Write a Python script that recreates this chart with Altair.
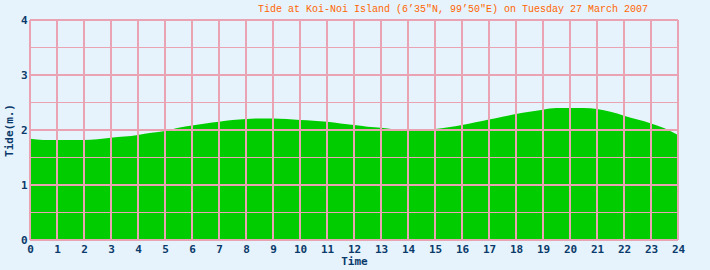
import altair as alt
import pandas as pd

hours = [0, 0.5, 1, 1.5, 2, 2.5, 3, 3.5, 4, 4.5, 5, 5.5, 6, 6.5, 7, 7.5, 8, 8.5,
         9, 9.5, 10, 10.5, 11, 11.5, 12, 12.5, 13, 13.5, 14, 14.5, 15, 15.5, 16,
         16.5, 17, 17.5, 18, 18.5, 19, 19.5, 20, 20.5, 21, 21.5, 22, 22.5, 23, 23.5, 24]
tide = [1.84, 1.82, 1.82, 1.82, 1.82, 1.83, 1.86, 1.88, 1.91, 1.95, 1.98, 2.04, 2.08,
        2.12, 2.15, 2.18, 2.20, 2.21, 2.21, 2.20, 2.18, 2.17, 2.15, 2.12, 2.09, 2.06,
        2.04, 2.01, 2.00, 2.00, 2.02, 2.05, 2.09, 2.14, 2.19, 2.24, 2.29, 2.33, 2.37,
        2.40, 2.40, 2.40, 2.38, 2.33, 2.26, 2.19, 2.12, 2.03, 1.91]
x_ticks = list(range(0, 25))
y_major = [0, 1, 2, 3, 4]
y_minor = [0.5, 1.5, 2.5, 3.5]

df = pd.DataFrame({"hour": hours, "tide": tide})
vdf = pd.DataFrame({"hour": x_ticks})
hmaj = pd.DataFrame({"tide": y_major})
hmin = pd.DataFrame({"tide": y_minor})

pink = "#eaa3b3"
navy = "#0a3a6a"
font_lab = "DejaVu Sans Mono"

xs = alt.Scale(domain=[0, 24], nice=False, zero=False)
ys = alt.Scale(domain=[0, 4], nice=False)
xaxis = alt.Axis(values=x_ticks, title="Time", grid=False, domain=False,
                 ticks=False, labelPadding=3, titlePadding=1, format="d",
                 labelOverlap=False, labelFlush=False)
yaxis = alt.Axis(values=y_major, title="Tide(m.)", grid=False, domain=False,
                 ticks=False, labelPadding=3, titlePadding=6, format="d",
                 labelOverlap=False, labelFlush=False)

area = alt.Chart(df).mark_area(color="#00cc00", interpolate="monotone").encode(
    x=alt.X("hour:Q", scale=xs, axis=xaxis),
    y=alt.Y("tide:Q", scale=ys, axis=yaxis),
)

vrules = alt.Chart(vdf).mark_rule(color=pink, strokeWidth=2).encode(
    x=alt.X("hour:Q", scale=xs, axis=xaxis))
hrules = alt.Chart(hmaj).mark_rule(color=pink, strokeWidth=2).encode(
    y=alt.Y("tide:Q", scale=ys, axis=yaxis))
hminor = alt.Chart(hmin).mark_rule(color=pink, strokeWidth=1).encode(
    y=alt.Y("tide:Q", scale=ys, axis=yaxis))

chart = alt.layer(area, hminor, hrules, vrules).properties(
    width=648, height=220,
    autosize=alt.AutoSizeParams(type="none"),
    padding={"left": 30, "top": 20, "right": 32, "bottom": 30},
    background="#e6f2fc",
    title=alt.TitleParams(
        "Tide at Koi-Noi Island (6’35\"N, 99’50\"E) on Tuesday 27 March 2007",
        anchor="start", frame="group", dx=228, dy=14, offset=6, baseline="alphabetic",
        font="Liberation Mono", fontSize=10,
        fontWeight="normal", color="#ff6600"),
).configure_view(stroke=None).configure_axis(
    labelFont=font_lab, labelFontSize=11, labelFontWeight="bold", labelColor=navy,
    titleFont=font_lab, titleFontSize=11, titleFontWeight="bold", titleColor=navy,
)

chart.save("out.html", embed_options={"renderer": "svg", "actions": False})
